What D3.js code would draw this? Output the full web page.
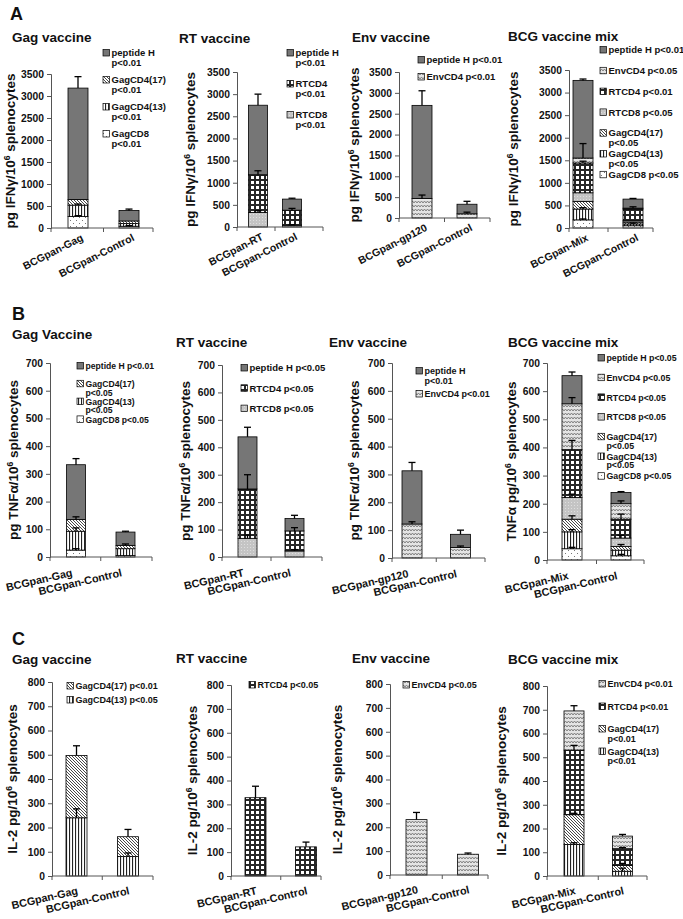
<!DOCTYPE html>
<html><head><meta charset="utf-8">
<script src="https://cdn.jsdelivr.net/npm/d3@7"></script>
<style>
body{margin:0;background:#fff;}
svg text{font-family:"Liberation Sans",Arial,sans-serif;font-weight:bold;fill:#111;}
</style></head><body>
<svg id="chart" width="683" height="919"></svg>
<script>
// ---------------- DATA ----------------
const ticksIFN = [0,500,1000,1500,2000,2500,3000,3500];
const ticksTNF = [0,100,200,300,400,500,600,700];
const ticksIL2 = [0,100,200,300,400,500,600,700,800];

const seriesGag = ["GagCD8","GagCD4(13)","GagCD4(17)","peptide H"];
const seriesRT = ["RTCD8","RTCD4","peptide H"];
const seriesEnv = ["EnvCD4","peptide H"];
const seriesMix = ["GagCD8","GagCD4(13)","GagCD4(17)","RTCD8","RTCD4","EnvCD4","peptide H"];
const seriesGagIL2 = ["GagCD4(13)","GagCD4(17)"];
const seriesRTIL2 = ["RTCD4"];
const seriesEnvIL2 = ["EnvCD4"];
const seriesMixIL2 = ["GagCD4(13)","GagCD4(17)","RTCD4","EnvCD4"];

const catsGag = ["BCGpan-Gag","BCGpan-Control"];
const catsRT = ["BCGpan-RT","BCGpan-Control"];
const catsEnv = ["BCGpan-gp120","BCGpan-Control"];
const catsMix = ["BCGpan-Mix","BCGpan-Control"];

// A: IFN-gamma (segment heights, bottom to top)
const valuesA1 = [[260,260,130,2530],[40,60,60,240]];
const errorsA1 = [[20,25,0,260],[15,0,0,30]];
const valuesA2 = [[330,850,1570],[40,340,250]];
const errorsA2 = [[40,90,250],[10,40,20]];
const valuesA3 = [[470,2230],[100,230]];
const errorsA3 = [[80,350],[40,70]];
const valuesA4 = [[180,240,170,190,660,110,1720],[50,40,40,30,260,20,200]];
const errorsA4 = [[20,30,0,0,40,320,30],[0,20,0,0,0,30,15]];
// B: TNF-alpha
const valuesB1 = [[25,68,42,198],[5,25,12,48]];
const errorsB1 = [[5,12,10,22],[0,0,5,3]];
const valuesB2 = [[68,180,190],[22,73,45]];
const errorsB2 = [[12,52,35],[5,12,12]];
const valuesB3 = [[122,191],[38,47]];
const errorsB3 = [[8,30],[5,15]];
const valuesB4 = [[40,60,45,77,170,163,100],[15,20,13,30,67,55,40]];
const errorsB4 = [[5,8,12,12,33,22,13],[5,0,7,10,18,10,3]];
// C: IL-2
const valuesC1 = [[240,257],[80,82]];
const errorsC1 = [[37,40],[15,30]];
const valuesC2 = [[328],[122]];
const errorsC2 = [[48],[20]];
const valuesC3 = [[232],[87]];
const errorsC3 = [[30],[5]];
const valuesC4 = [[133,125,272,165],[20,25,70,53]];
const errorsC4 = [[7,6,20,22],[13,8,5,7]];

// legend texts (top to bottom)
const legendA1 = [["peptide H","p<0.01"],["GagCD4(17)","p<0.01"],["GagCD4(13)","p<0.01"],["GagCD8","p<0.01"]];
const legendA2 = [["peptide H","p<0.01"],["RTCD4","p<0.01"],["RTCD8","p<0.01"]];
const legendA3 = [["peptide H p<0.01"],["EnvCD4 p<0.01"]];
const legendA4 = [["peptide H p<0.01"],["EnvCD4 p<0.05"],["RTCD4  p<0.01"],["RTCD8  p<0.05"],["GagCD4(17)","p<0.05"],["GagCD4(13)","p<0.05"],["GagCD8 p<0.05"]];
const legendB1 = [["peptide H p<0.01"],["GagCD4(17)","p<0.05"],["GagCD4(13)","p<0.05"],["GagCD8 p<0.05"]];
const legendB2 = [["peptide H p<0.05"],["RTCD4  p<0.05"],["RTCD8  p<0.05"]];
const legendB3 = [["peptide H","p<0.01"],["EnvCD4  p<0.01"]];
const legendB4 = [["peptide H p<0.05"],["EnvCD4 p<0.05"],["RTCD4  p<0.05"],["RTCD8  p<0.05"],["GagCD4(17)","p<0.05"],["GagCD4(13)","p<0.05"],["GagCD8 p<0.05"]];
const legendC1 = [["GagCD4(17) p<0.01"],["GagCD4(13) p<0.05"]];
const legendC2 = [["RTCD4 p<0.05"]];
const legendC3 = [["EnvCD4 p<0.05"]];
const legendC4 = [["EnvCD4 p<0.01"],["RTCD4  p<0.01"],["GagCD4(17)","p<0.01"],["GagCD4(13)","p<0.01"]];

const titles = ["Gag vaccine","RT vaccine","Env vaccine","BCG vaccine mix","Gag Vaccine","RT vaccine","Env vaccine","BCG vaccine mix","Gag vaccine","RT vaccine","Env vaccine","BCG vaccine mix"];
const yTitleIFN = ["pg IFNγ/10","6"," splenocytes"];
const yTitleTNF = ["pg TNFα/10","6"," splenocytes"];
const yTitleTNF2 = ["TNFα pg/10","6"," splenocytes"];
const yTitleIL2 = ["IL-2 pg/10","6"," splenocytes"];
const panelLetters = ["A","B","C"];

// ---------------- STYLE / LAYOUT ----------------
const patternOf = {"peptide H":"p-gray","GagCD8":"p-dots","GagCD4(13)":"p-vl","GagCD4(17)":"p-hatch","RTCD8":"p-light","RTCD4":"p-check","EnvCD4":"p-zig"};

const panels = [
 {series:seriesGag,cats:catsGag,values:valuesA1,errors:errorsA1,legend:legendA1,ticks:ticksIFN,yt:yTitleIFN,
  L:{ax:51,axEnd:153,yTop:74,yBot:228,c1:78,c2:129,bw:20,tx:12,ty:42,ytx:15,legX:103,legY:53,legDy:27,lg:9.5,lgap:9.5,row:0}},
 {series:seriesRT,cats:catsRT,values:valuesA2,errors:errorsA2,legend:legendA2,ticks:ticksIFN,yt:yTitleIFN,
  L:{ax:237,axEnd:323,yTop:72,yBot:227,c1:258,c2:292,bw:19,tx:179,ty:43,ytx:195,legX:287,legY:53,legDy:31,lg:9.5,lgap:9.5,row:0}},
 {series:seriesEnv,cats:catsEnv,values:valuesA3,errors:errorsA3,legend:legendA3,ticks:ticksIFN,yt:yTitleIFN,
  L:{ax:399,axEnd:490,yTop:72,yBot:218,c1:422,c2:467,bw:20,tx:352,ty:42,ytx:359,legX:418,legY:60,legDy:17,lg:9.5,lgap:9.5,row:0}},
 {series:seriesMix,cats:catsMix,values:valuesA4,errors:errorsA4,legend:legendA4,ticks:ticksIFN,yt:yTitleIFN,
  L:{ax:569,axEnd:653,yTop:70,yBot:228,c1:583,c2:633,bw:20,tx:508,ty:41,ytx:518,legX:600,legY:50,legDy:20.8,lg:9.5,lgap:9.5,row:0}},
 {series:seriesGag,cats:catsGag,values:valuesB1,errors:errorsB1,legend:legendB1,ticks:ticksTNF,yt:yTitleTNF,
  L:{ax:50,axEnd:152,yTop:363,yBot:557,c1:76,c2:125.5,bw:19,tx:12,ty:339,ytx:18,legX:77,legY:366,legDy:17.8,lg:8.6,lgap:8.6,row:1}},
 {series:seriesRT,cats:catsRT,values:valuesB2,errors:errorsB2,legend:legendB2,ticks:ticksTNF,yt:yTitleTNF,
  L:{ax:222,axEnd:322,yTop:365,yBot:557,c1:247.5,c2:294.5,bw:19,tx:176,ty:347,ytx:190,legX:241,legY:368,legDy:20.3,lg:9.5,lgap:9,row:1}},
 {series:seriesEnv,cats:catsEnv,values:valuesB3,errors:errorsB3,legend:legendB3,ticks:ticksTNF,yt:yTitleTNF,
  L:{ax:392,axEnd:485,yTop:363,yBot:558,c1:412,c2:460.5,bw:20,tx:329,ty:347,ytx:359,legX:416,legY:371,legDy:23,lg:9,lgap:10,row:1}},
 {series:seriesMix,cats:catsMix,values:valuesB4,errors:errorsB4,legend:legendB4,ticks:ticksTNF,yt:yTitleTNF2,
  L:{ax:547,axEnd:644,yTop:363,yBot:560,c1:572,c2:621,bw:20,tx:508,ty:347,ytx:516,legX:598,legY:358,legDy:19.7,lg:8.8,lgap:8.6,row:1}},
 {series:seriesGagIL2,cats:catsGag,values:valuesC1,errors:errorsC1,legend:legendC1,ticks:ticksIL2,yt:yTitleIL2,
  L:{ax:52,axEnd:153,yTop:682,yBot:876,c1:76.5,c2:128,bw:21,tx:12,ty:664,ytx:17,legX:67,legY:686,legDy:14,lg:9,lgap:9.5,row:2}},
 {series:seriesRTIL2,cats:catsRT,values:valuesC2,errors:errorsC2,legend:legendC2,ticks:ticksIL2,yt:yTitleIL2,
  L:{ax:231,axEnd:321,yTop:685,yBot:876,c1:255.5,c2:306,bw:21,tx:176,ty:663,ytx:197,legX:249,legY:685,legDy:14,lg:9,lgap:9.5,row:2}},
 {series:seriesEnvIL2,cats:catsEnv,values:valuesC3,errors:errorsC3,legend:legendC3,ticks:ticksIL2,yt:yTitleIL2,
  L:{ax:390,axEnd:488,yTop:684,yBot:875,c1:416.5,c2:468,bw:21,tx:352,ty:663,ytx:342,legX:403,legY:685,legDy:14,lg:9,lgap:9.5,row:2}},
 {series:seriesMixIL2,cats:catsMix,values:valuesC4,errors:errorsC4,legend:legendC4,ticks:ticksIL2,yt:yTitleIL2,
  L:{ax:547,axEnd:647,yTop:686,yBot:876,c1:574,c2:622.5,bw:20,tx:508,ty:664,ytx:506,legX:599,legY:684,legDy:22.5,lg:9,lgap:9.5,row:2}}
];
const rowStyle = [
 {rot:-27,dx:6,dy:12,fs:10.5},
 {rot:-13,dx:-3,dy:19,fs:10.8},
 {rot:-13,dx:2,dy:18,fs:10.8}
];
const letterPos = [[10,20],[12,320],[12,645]];

// ---------------- DRAW ----------------
const svg = d3.select("#chart");
const defs = svg.append("defs");
function pat(id,w,h,build){const p=defs.append("pattern").attr("id",id).attr("patternUnits","userSpaceOnUse").attr("width",w).attr("height",h);build(p);}
pat("p-gray",4,4,p=>p.append("rect").attr("width",4).attr("height",4).attr("fill","#767676"));
pat("p-dots",6,6,p=>{p.append("rect").attr("width",6).attr("height",6).attr("fill","#fff");
  p.append("rect").attr("x",1).attr("y",1).attr("width",1).attr("height",1).attr("fill","#777");
  p.append("rect").attr("x",4).attr("y",4).attr("width",1).attr("height",1).attr("fill","#777");});
pat("p-vl",3,3,p=>{p.append("rect").attr("width",3).attr("height",3).attr("fill","#fff");
  p.append("rect").attr("x",0).attr("width",1.1).attr("height",3).attr("fill","#222");});
pat("p-hatch",3,3,p=>{p.append("rect").attr("width",3).attr("height",3).attr("fill","#fff");
  p.append("path").attr("d","M0,0L3,3M-1,2L1,4M2,-1L4,1").attr("stroke","#333").attr("stroke-width",0.9);});
pat("p-light",3,3,p=>{p.append("rect").attr("width",3).attr("height",3).attr("fill","#c4c4c4");
  p.append("rect").attr("x",1).attr("y",1).attr("width",0.8).attr("height",0.8).attr("fill","#eee");});
pat("p-check",5,5,p=>{p.append("rect").attr("width",5).attr("height",5).attr("fill","#262626");
  p.append("rect").attr("x",1).attr("y",1).attr("width",3).attr("height",3).attr("fill","#fff");});
pat("p-zig",6,4,p=>{p.append("rect").attr("width",6).attr("height",4).attr("fill","#e4e4e4");
  p.append("path").attr("d","M0,3L1.5,1L3,3L4.5,1L6,3").attr("fill","none").attr("stroke","#777").attr("stroke-width",0.9);});

panelLetters.forEach((t,i)=>svg.append("text").attr("x",letterPos[i][0]).attr("y",letterPos[i][1]).style("font-size","18px").text(t));

panels.forEach((P,pi)=>{
  const L = P.L, R = rowStyle[L.row];
  const g = svg.append("g");
  const y = d3.scaleLinear().domain([0,d3.max(P.ticks)]).range([L.yBot,L.yTop]);
  const x = d3.scalePoint().domain(P.cats).range([L.c1,L.c2]);
  const rows = P.cats.map((c,i)=>{const o={cat:c};P.series.forEach((s,j)=>o[s]=P.values[i][j]);return o;});
  const stacked = d3.stack().keys(P.series)(rows);
  // title
  g.append("text").attr("x",L.tx).attr("y",L.ty).style("font-size","13.5px").text(titles[pi]);
  // bars
  stacked.forEach((layer,j)=>{
    g.selectAll(null).data(layer).join("rect")
     .attr("x",d=>x(d.data.cat)-L.bw/2).attr("y",d=>y(d[1]))
     .attr("width",L.bw).attr("height",d=>y(d[0])-y(d[1]))
     .attr("fill",`url(#${patternOf[P.series[j]]})`)
     .attr("stroke","#000").attr("stroke-width",0.8);
  });
  // error bars
  stacked.forEach((layer,j)=>{
    layer.forEach((d,i)=>{
      const e = P.errors[i][j]; if(!e) return;
      const cx = x(d.data.cat);
      g.append("line").attr("x1",cx).attr("x2",cx).attr("y1",y(d[1])).attr("y2",y(d[1]+e)).attr("stroke","#000").attr("stroke-width",1.3);
      g.append("line").attr("x1",cx-3.5).attr("x2",cx+3.5).attr("y1",y(d[1]+e)).attr("y2",y(d[1]+e)).attr("stroke","#000").attr("stroke-width",1.3);
    });
  });
  // y axis
  const ya = g.append("g").attr("transform",`translate(${L.ax},0)`)
    .call(d3.axisLeft(y).tickValues(P.ticks).tickSize(4).tickPadding(3).tickFormat(d3.format("d")));
  ya.selectAll("path,line").attr("stroke","#555").attr("stroke-width",1);
  ya.selectAll("text").style("font-size","10.3px").style("font-family","'Liberation Sans',Arial,sans-serif").style("font-weight","bold").attr("fill","#111");
  // x axis (line + ticks between categories)
  const xTicks = [L.ax,(x(P.cats[0])+x(P.cats[1]))/2,L.axEnd];
  g.append("line").attr("x1",L.ax).attr("x2",L.axEnd).attr("y1",L.yBot).attr("y2",L.yBot).attr("stroke","#555");
  g.selectAll(null).data(xTicks).join("line").attr("x1",d=>d).attr("x2",d=>d).attr("y1",L.yBot).attr("y2",L.yBot+4).attr("stroke","#555");
  g.selectAll(null).data(P.cats).join("text")
    .attr("transform",d=>`translate(${x(d)+R.dx},${L.yBot+R.dy}) rotate(${R.rot})`)
    .attr("text-anchor","end").style("font-size",R.fs+"px").text(d=>d);
  // y title
  const yt = g.append("text").attr("transform",`translate(${L.ytx},${(L.yTop+L.yBot)/2}) rotate(-90)`)
    .attr("text-anchor","middle").style("font-size","13.5px");
  yt.append("tspan").text(P.yt[0]);
  yt.append("tspan").attr("dy",-5).style("font-size","8.5px").text(P.yt[1]);
  yt.append("tspan").attr("dy",5).text(P.yt[2]);
  // legend
  const series = P.series.slice().reverse();
  P.legend.forEach((lines,i)=>{
    const ly = L.legY + i*L.legDy;
    g.append("rect").attr("x",L.legX).attr("y",ly-3.5).attr("width",6.5).attr("height",6.5)
      .attr("fill",`url(#${patternOf[series[i]]})`).attr("stroke","#000").attr("stroke-width",0.7);
    lines.forEach((t,k)=>g.append("text").attr("x",L.legX+8.5).attr("y",ly+3.2+k*L.lgap).style("font-size",L.lg+"px").text(t));
  });
});
</script>
</body></html>
